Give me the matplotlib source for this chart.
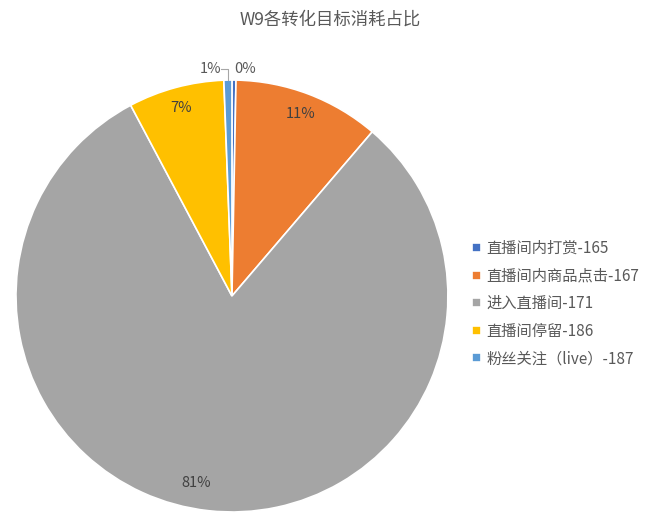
import numpy as np
import matplotlib
matplotlib.use('Agg')
import matplotlib.pyplot as plt

plt.rcParams['font.family'] = ['Noto Sans CJK SC', 'DejaVu Sans']

# data (percent share)
labels = ['直播间内打赏-165', '直播间内商品点击-167', '进入直播间-171', '直播间停留-186', '粉丝关注（live）-187']
shares = [0.3, 11.0, 81.3, 7.2, 0.6]
colors = ['#4472C4', '#ED7D31', '#A5A5A5', '#FFC000', '#5B9BD5']
title = 'W9各转化目标消耗占比'
text_col = '#595959'

fig = plt.figure(figsize=(6.6, 5.3), dpi=100)
ax = fig.add_axes([0.0242, 0.034, 0.6545, 0.815])

wedges, texts, autotexts = ax.pie(shares, colors=colors, startangle=90, counterclock=False,
                                  autopct='%.0f%%', pctdistance=0.9, radius=1,
                                  wedgeprops=dict(edgecolor='white', linewidth=1.2),
                                  textprops=dict(color='#404040', fontsize=10.5))
ax.set_xlim(-1, 1)
ax.set_ylim(-1, 1)
ax.set_aspect('equal')

# nudge the big slice's label like excel's best fit
w = wedges[2]
a = np.deg2rad((w.theta1 + w.theta2) / 2 - 4.5)
autotexts[2].set_position((0.88 * np.cos(a), 0.88 * np.sin(a)))

# small slices: labels outside, above the top
for i, dx in [(0, 0.05), (4, -0.08)]:
    w = wedges[i]
    ang = np.deg2rad((w.theta1 + w.theta2) / 2)
    x0 = np.cos(ang)
    autotexts[i].set_position((x0 + dx, 1.05))
    autotexts[i].set_ha('center')
    autotexts[i].set_va('center')
    autotexts[i].set_color(text_col)
# leader line for the 1% label
w = wedges[4]
ang = np.deg2rad((w.theta1 + w.theta2) / 2)
x0, y0 = np.cos(ang), np.sin(ang)
ax.plot([x0 - 0.03, x0, x0], [1.05, 1.05, y0], color='#A6A6A6', lw=0.8, clip_on=False)

fig.text(0.5, 0.963, title, ha='center', va='center', fontsize=12.5, color=text_col)

fig.legend(wedges, labels, loc='upper left', bbox_to_anchor=(0.695, 0.573),
           frameon=False, fontsize=11, labelcolor=text_col,
           handlelength=0.55, handleheight=0.55, handletextpad=0.35,
           labelspacing=0.69)

fig.savefig('out.png', dpi=100, facecolor='white')
